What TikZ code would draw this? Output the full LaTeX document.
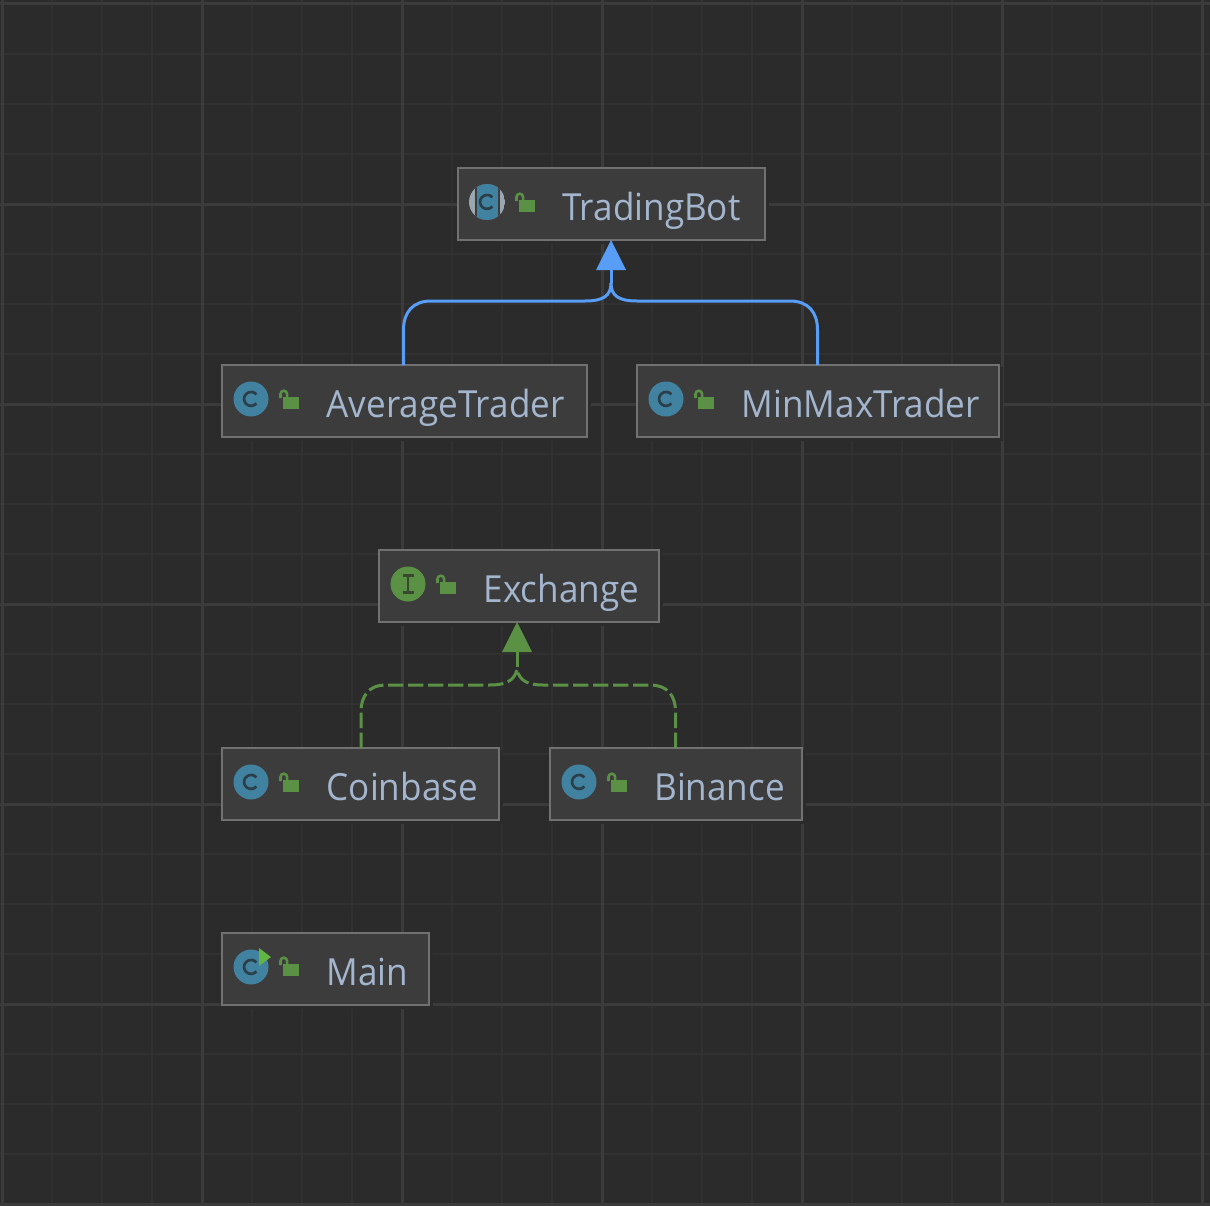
\documentclass[tikz,border=0pt]{standalone}
\usepackage{fontspec}
\setmainfont[FakeStretch=0.94]{Open Sans}
\usetikzlibrary{calc}
\definecolor{bgc}{HTML}{2B2B2B}
\definecolor{gridminor}{HTML}{313131}
\definecolor{gridmajor}{HTML}{3B3B3B}
\definecolor{boxfill}{HTML}{3C3C3C}
\definecolor{boxline}{HTML}{717171}
\definecolor{labelc}{HTML}{A4B6CE}
\definecolor{teal}{HTML}{40829F}
\definecolor{tealdark}{HTML}{2B3F4B}
\definecolor{greenc}{HTML}{5B9145}
\definecolor{greendark}{HTML}{38492F}
\definecolor{runc}{HTML}{62B543}
\definecolor{bluec}{HTML}{589DF6}
\definecolor{grayc}{HTML}{9AA7B0}
\tikzset{
  x=0.75pt,y=-0.75pt,
  gridmin/.style={draw=gridminor,line width=1.5pt},
  gridmaj/.style={draw=gridmajor,line width=2.25pt},
  umlbox/.style={draw=boxline,fill=boxfill,line width=1.9pt,inner sep=0pt,outer sep=0pt,rectangle},
  umllabel/.style={text=labelc,font=\fontsize{28}{32}\selectfont,inner sep=0pt,anchor=base west},
  extends/.style={draw=bluec,line width=2.25pt,line cap=butt},
  implements/.style={draw=greenc,line width=2.25pt,dash pattern=on 11.5pt off 3.5pt},
  tipblue/.style={fill=bluec,draw=none},
  tipgreen/.style={fill=greenc,draw=none},
  lockbody/.style={fill=greenc,draw=none},
  lockarc/.style={draw=greenc,line width=1.9pt},
}
\newcommand{\clsbox}[5]{% name x1 y1 x2 y2
  \fill[bgc] (#2+2,#3+2) rectangle (#4+4,#5+4);
  \node[umlbox,minimum width={(#4-#2)*0.75pt},minimum height={(#5-#3)*0.75pt}] (#1) at ({(#2+#4)/2},{(#3+#5)/2}) {};
}
\newcommand{\padlock}[2]{% left x, top y of the lock
  \fill[lockbody] (#1+5,#2+7) rectangle (#1+21,#2+19);
  \draw[lockarc] (#1+2.5,#2+8) -- (#1+2.5,#2+4) arc[start angle=180,end angle=360,radius=3.3] -- (#1+9.1,#2+7.5);
}
\newcommand{\letterc}[2]{%
  \draw[tealdark,line width=2pt] (#1+5.4,#2+4.4) arc[start angle=40,end angle=320,radius=7];
}
\newcommand{\classicon}[2]{%
  \fill[teal] (#1,#2) circle[radius=17.5];
  \letterc{#1}{#2}
}
\begin{document}
\begin{tikzpicture}
\useasboundingbox (0,0) rectangle (1210,1206);
\fill[bgc] (0,0) rectangle (1210,1206);
% grid
\foreach \g in {52,102,152,252,302,352,452,502,552,652,702,752,852,902,952,1052,1102,1152}
  \draw[gridmin] (\g,0) -- (\g,1206);
\foreach \g in {54,104,154,254,304,354,454,504,554,654,704,754,854,904,954,1054,1104,1154}
  \draw[gridmin] (0,\g) -- (1210,\g);
\foreach \g in {2,202,402,602,802,1002,1202}
  \draw[gridmaj] (\g,0) -- (\g,1206);
\foreach \g in {4,204,404,604,804,1004,1204}
  \draw[gridmaj] (0,\g) -- (1210,\g);
% boxes
\clsbox{tb}{458}{168}{765}{240}
\clsbox{avg}{222}{365}{587}{437}
\clsbox{mm}{637}{365}{999}{437}
\clsbox{ex}{379}{550}{659}{622}
\clsbox{cb}{222}{748}{499}{820}
\clsbox{bn}{550}{748}{802}{820}
\clsbox{mn}{222}{933}{429}{1005}
% labels
\node[umllabel] (tbl) at (562,220) {TradingBot};
\node[umllabel] (avgl) at (326.5,417) {AverageTrader};
\node[umllabel] (mml) at (741.5,417) {MinMaxTrader};
\node[umllabel] (exl) at (483.5,602) {Exchange};
\node[umllabel] (cbl) at (326.5,800) {Coinbase};
\node[umllabel] (bnl) at (654,800) {Binance};
\node[umllabel] (mnl) at (326.5,985) {Main};
% abstract class icon
\begin{scope}
\clip (487,202) circle[radius=18];
\fill[grayc] (469,184) rectangle (505,220);
\fill[boxfill] (475,184) rectangle (500,220);
\fill[teal] (477,184) rectangle (498,220);
\end{scope}
\letterc{487}{202}
% class icons
\classicon{251}{399}
\classicon{666}{399}
\classicon{251}{782}
\classicon{579}{782}
\classicon{251}{967}
\fill[runc] (259,948) -- (271,957) -- (259,966) -- cycle;
% interface icon
\fill[greenc] (408,584) circle[radius=17.5];
\draw[greendark,line width=1.9pt] (402.5,575.5) -- (413.5,575.5) (402.5,592.5) -- (413.5,592.5) (408,575.5) -- (408,592.5);
% locks
\padlock{514}{193}
\padlock{278}{390}
\padlock{693}{390}
\padlock{435}{575}
\padlock{278}{773}
\padlock{606}{773}
\padlock{278}{957}
% connectors
\coordinate (tbj) at (611,283);
\draw[extends] (avg.north -| 403.5,0) -- (403.5,330) .. controls (403.5,312) and (413,301) .. (431,301) -- (585,301) .. controls (603,301) and (611,296) .. (tbj);
\draw[extends] (mm.north -| 817.5,0) -- (817.5,330) .. controls (817.5,312) and (808,301) .. (790,301) -- (637,301) .. controls (619,301) and (611,296) .. (tbj);
\draw[extends] (tbj) -- (611,268);
\fill[tipblue] (tb.south -| 611,0) -- (626,270) -- (596,270) -- cycle;
\coordinate (exj) at (517,670);
\draw[implements] (cb.north -| 361,0) -- (361,712) .. controls (361,695) and (370,685) .. (385,685) -- (490,685) .. controls (505,685) and (514,681) .. (exj);
\draw[implements] (bn.north -| 675.5,0) -- (675.5,712) .. controls (675.5,695) and (667,685) .. (650,685) -- (543,685) .. controls (528,685) and (520,681) .. (exj);
\draw[draw=greenc,line width=2.25pt] (517,667) -- (517,650);
\fill[tipgreen] (ex.south -| 517,0) -- (532,652) -- (502,652) -- cycle;
\end{tikzpicture}
\end{document}
